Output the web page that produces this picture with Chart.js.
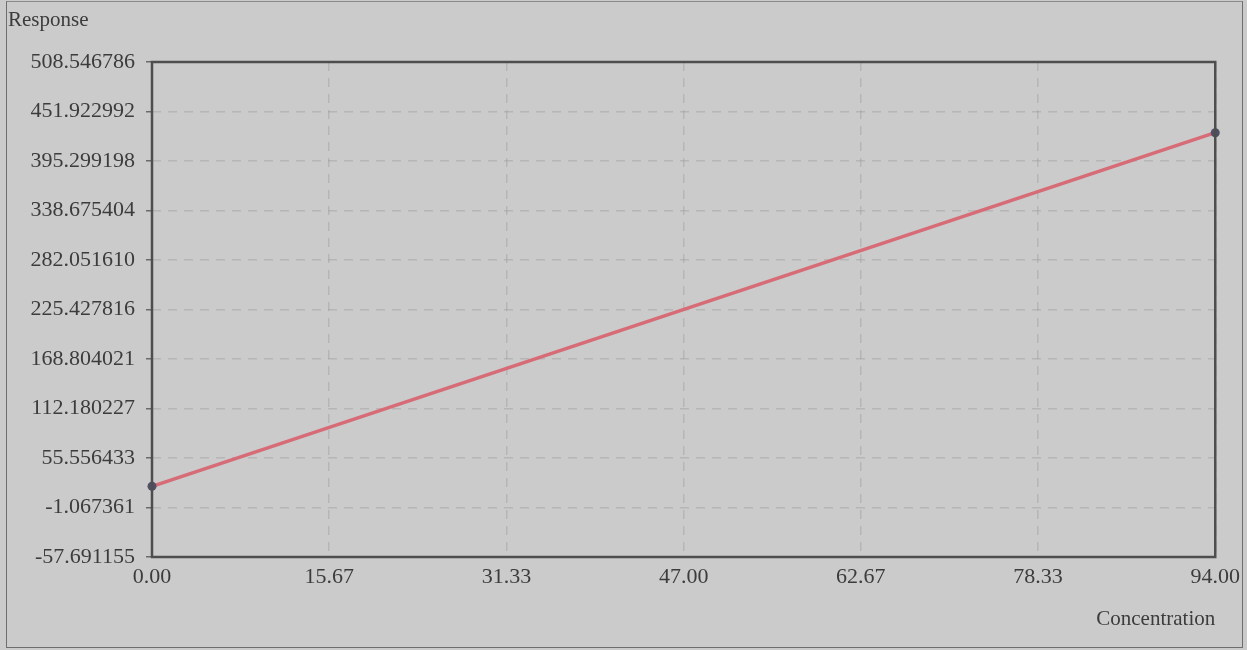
<!DOCTYPE html>
<html>
<head>
<meta charset="utf-8">
<script src="https://cdn.jsdelivr.net/npm/chart.js@4/dist/chart.umd.min.js"></script>
<style>
  html, body { margin: 0; padding: 0; background: #cbcbcb; }
  #wrap { position: relative; width: 1247px; height: 650px; overflow: hidden; }
  #frame { position: absolute; left: 6px; top: 1px; right: 4px; bottom: 2px; border: 1px solid #6e6e6e; border-top-color: #8a8a8a; pointer-events: none; }
  #ylabel { position: absolute; left: 8px; top: 7px; font: 21px "Liberation Serif", serif; color: #3c3c3c; }
  canvas { position: absolute; left: 0; top: 0; }
</style>
</head>
<body>
<div id="wrap">
  <canvas id="chart" width="1247" height="650"></canvas>
  <div id="ylabel">Response</div>
  <div id="frame"></div>
</div>
<script>
// fitted line, drawn through its two end points
const concentration = [0, 94];
const response = [23.2, 427.66];

const xTicks = [0, 15.67, 31.33, 47, 62.67, 78.33, 94];
const yTicks = [-57.691155, -1.067361, 55.556433, 112.180227, 168.804021, 225.427816,
  282.051610, 338.675404, 395.299198, 451.922992, 508.546786];

const textColor = '#3c3c3c';
const gridColor = 'rgba(150,150,150,0.4)';

// draws the dark box round the plot area
const plotBox = {
  id: 'plotBox',
  afterDatasetsDraw(chart) {
    const { ctx, chartArea: a } = chart;
    ctx.save();
    ctx.strokeStyle = '#4e4e4e';
    ctx.lineWidth = 2.5;
    ctx.strokeRect(a.left, a.top, a.right - a.left, a.bottom - a.top);
    ctx.restore();
  }
};

const points = concentration.map((x, i) => ({ x: x, y: response[i] }));

new Chart(document.getElementById('chart'), {
  type: 'line',
  data: {
    datasets: [{
      data: points,
      borderColor: '#d76b76',
      borderWidth: 3.5,
      pointRadius: 4.5,
      pointBackgroundColor: '#4f4f66',
      pointBorderColor: '#4f4f66',
      pointBorderWidth: 0,
      clip: false,
      tension: 0
    }]
  },
  options: {
    responsive: false,
    animation: false,
    events: [],
    layout: { autoPadding: false, padding: { left: 0, top: 62, right: 28, bottom: 6 } },
    plugins: { legend: { display: false }, tooltip: { enabled: false } },
    scales: {
      x: {
        type: 'linear',
        min: 0,
        max: 94,
        afterBuildTicks: (s) => { s.ticks = xTicks.map(v => ({ value: v })); },
        afterFit: (s) => { s.height = 87; },
        ticks: {
          autoSkip: false,
          maxRotation: 0,
          padding: 7,
          color: textColor,
          font: { family: 'Liberation Serif', size: 22 },
          callback: (v) => Number(v).toFixed(2)
        },
        grid: { color: gridColor, lineWidth: 1.5, drawTicks: false },
        border: { display: false, dash: [9, 7] },
        title: {
          display: true,
          text: 'Concentration',
          align: 'end',
          color: textColor,
          font: { family: 'Liberation Serif', size: 21 },
          padding: { top: 10, bottom: 12 }
        }
      },
      y: {
        type: 'linear',
        min: yTicks[0],
        max: yTicks[yTicks.length - 1],
        afterBuildTicks: (s) => { s.ticks = yTicks.map(v => ({ value: v })); },
        afterFit: (s) => { s.width = 152; },
        ticks: {
          autoSkip: false,
          padding: 11,
          color: textColor,
          font: { family: 'Liberation Serif', size: 22 },
          callback: (v) => Number(v).toFixed(6)
        },
        grid: { color: gridColor, lineWidth: 1.5, tickLength: 6, tickColor: '#6a6a6a', tickBorderDash: [] },
        border: { display: false, dash: [9, 7] }
      }
    }
  },
  plugins: [plotBox]
});
</script>
</body>
</html>
